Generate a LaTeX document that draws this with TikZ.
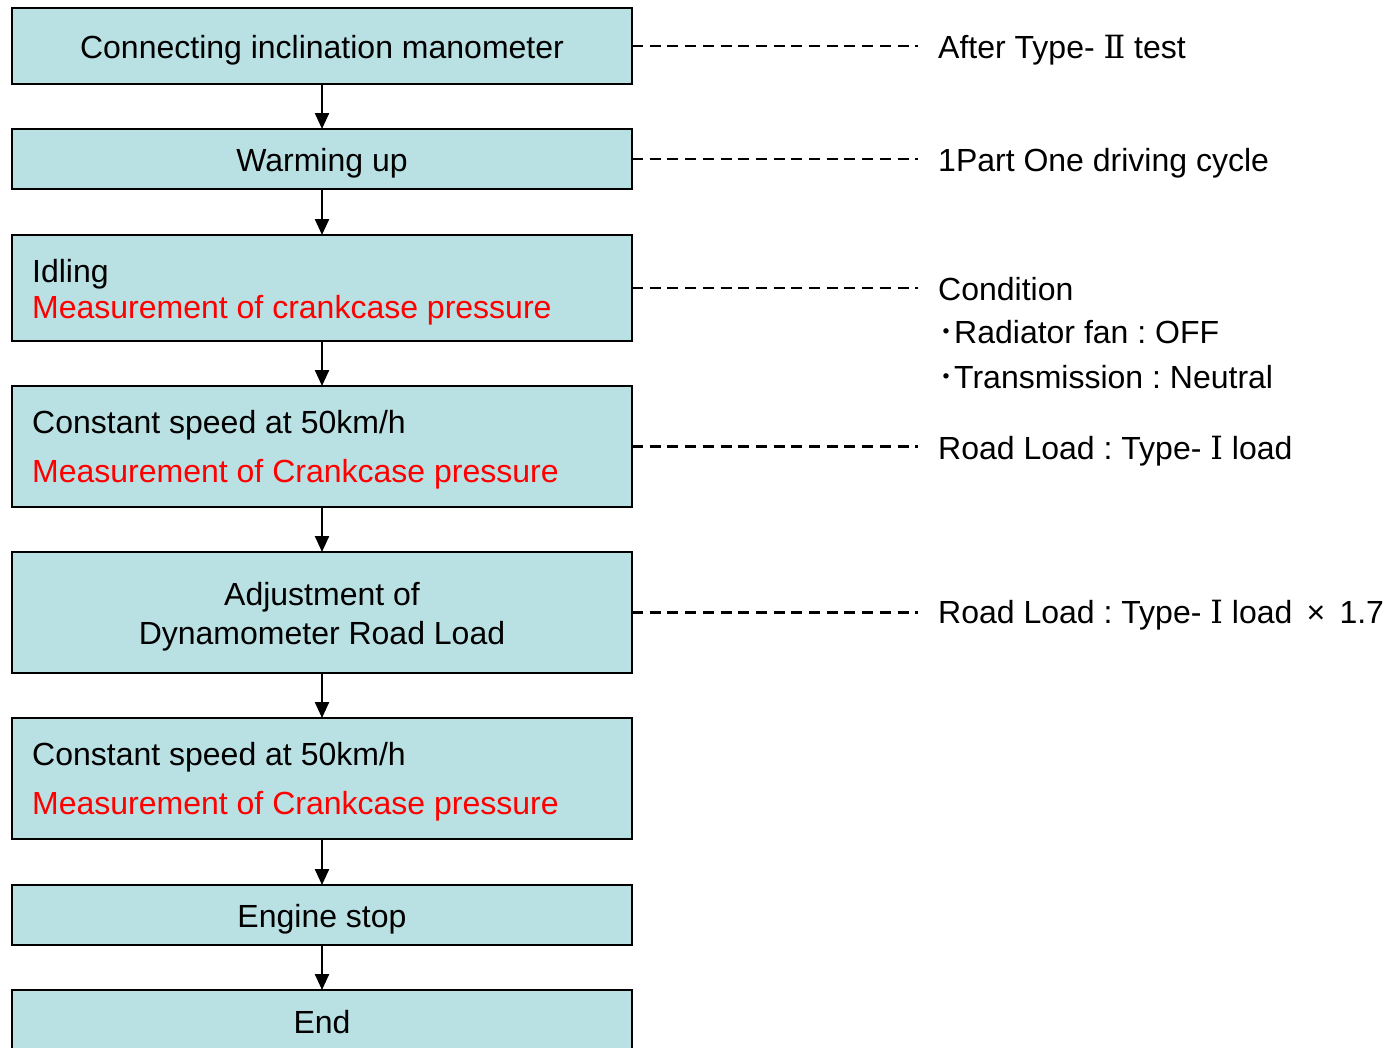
\documentclass[tikz,border=0pt]{standalone}
\usepackage{fontspec}
\setmainfont{Liberation Sans}
\newfontfamily\jp{Noto Sans CJK JP}
\newfontfamily\rmn{DejaVu Serif}
\usetikzlibrary{arrows.meta}

\definecolor{boxfill}{RGB}{185,224,227}
\definecolor{measred}{RGB}{255,0,0}

\tikzset{
  stepbox/.style={draw=black, line width=2.3pt, fill=boxfill, minimum width=620pt,
                  inner sep=0pt, outer sep=0pt},
  txt/.style={inner sep=0pt, font=\fontsize{32}{38}\selectfont},
  redtxt/.style={txt, text=measred},
  flow/.style={line width=2.3pt, -{Triangle[length=16pt,width=14pt]}},
  note/.style={line width=2.3pt, dash pattern=on 11pt off 6.7pt}
}

\begin{document}
\frenchspacing
\begin{tikzpicture}[x=1pt, y=-1pt]
  \useasboundingbox (0,0) rectangle (1392,1047);
  \clip (0,0) rectangle (1392,1047);

  % process boxes
  \node[stepbox, minimum height=76pt]  (b1) at (322,46)    {};
  \node[stepbox, minimum height=60pt]  (b2) at (322,159)   {};
  \node[stepbox, minimum height=106pt] (b3) at (322,288)   {};
  \node[stepbox, minimum height=121pt] (b4) at (322,446.5) {};
  \node[stepbox, minimum height=121pt] (b5) at (322,612.5) {};
  \node[stepbox, minimum height=121pt] (b6) at (322,778.5) {};
  \node[stepbox, minimum height=60pt]  (b7) at (322,915)   {};
  \node[stepbox, minimum height=80pt]  (b8) at (322,1030)  {};

  % box texts
  \node[txt, anchor=base] (t1) at (322,58.5) {Connecting inclination manometer};
  \node[txt, anchor=base] (t2) at (322,171) {Warming up};
  \node[txt, anchor=base west] (t3a) at (32,282) {Idling};
  \node[redtxt, anchor=base west] (t3b) at (32,318) {Measurement of crankcase pressure};
  \node[txt, anchor=base west] (t4a) at (32,433) {Constant speed at 50km/h};
  \node[redtxt, anchor=base west] (t4b) at (32,482) {Measurement of Crankcase pressure};
  \node[txt, anchor=base] (t5a) at (322,605) {Adjustment of};
  \node[txt, anchor=base] (t5b) at (322,644) {Dynamometer Road Load};
  \node[txt, anchor=base west] (t6a) at (32,765) {Constant speed at 50km/h};
  \node[redtxt, anchor=base west] (t6b) at (32,814) {Measurement of Crankcase pressure};
  \node[txt, anchor=base] (t7) at (322,927) {Engine stop};
  \node[txt, anchor=base] (t8) at (322,1033) {End};

  % flow arrows
  \draw[flow] (b1) -- (b2);
  \draw[flow] (b2) -- (b3);
  \draw[flow] (b3) -- (b4);
  \draw[flow] (b4) -- (b5);
  \draw[flow] (b5) -- (b6);
  \draw[flow] (b6) -- (b7);
  \draw[flow] (b7) -- (b8);

  % dashed leaders to the notes
  \coordinate (n1) at (918,46);
  \coordinate (n2) at (918,159);
  \coordinate (n3) at (918,288);
  \coordinate (n4) at (918,446.5);
  \coordinate (n5) at (918,612.5);
  \draw[note] (b1.east) -- (n1);
  \draw[note] (b2.east) -- (n2);
  \draw[note] (b3.east) -- (n3);
  \draw[note] (b4.east) -- (n4);
  \draw[note] (b5.east) -- (n5);

  % notes
  \node[txt, anchor=base west] (r1) at (938,58) {After Type- {\rmn Ⅱ} test};
  \node[txt, anchor=base west] (r2) at (938,171) {1Part One driving cycle};
  \node[txt, anchor=base west] (r3a) at (938,300) {Condition};
  \node[txt, anchor=base west] (r3b) at (938,343) {{\jp ･}Radiator fan : OFF};
  \node[txt, anchor=base west] (r3c) at (938,388) {{\jp ･}Transmission : Neutral};
  \node[txt, anchor=base west] (r4) at (938,459) {Road Load : Type- {\rmn Ⅰ} load};
  \node[txt, anchor=base west] (r5) at (938,623) {Road Load : Type- {\rmn Ⅰ} load \,×\, 1.7};
\end{tikzpicture}
\end{document}
